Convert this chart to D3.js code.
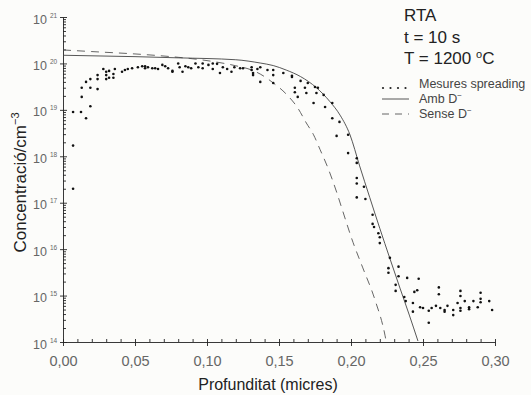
<!DOCTYPE html>
<html>
<head>
<meta charset="utf-8">
<script src="https://cdn.jsdelivr.net/npm/d3@7"></script>
<style>
  body { margin: 0; background: #fcfcfa; }
  svg { display: block; }
</style>
</head>
<body>
<div id="chart"></div>
<script>
// depth (micres), concentration (cm^-3)
const spreading = [
  [0.007, 9.0e18], [0.007, 1.7e18], [0.007, 2.0e17],
  [0.0125, 9.0e18], [0.013, 1.9e19], [0.013, 3.0e19],
  [0.016, 6.6e18], [0.016, 4.0e19],
  [0.019, 1.2e19], [0.019, 3.0e19], [0.019, 4.6e19],
  [0.024, 2.8e19], [0.024, 4.6e19], [0.024, 5.6e19],
  [0.028, 7.6e19],
  [0.030, 4.6e19], [0.030, 5.6e19], [0.030, 6.6e19],
  [0.032, 4.9e19], [0.032, 6.9e19],
  [0.035, 4.9e19], [0.035, 5.9e19],
  [0.036, 7.6e19], [0.041, 6.6e19], [0.043, 7.2e19], [0.045, 7.6e19],
  [0.048, 7.9e19], [0.052, 8.3e19], [0.055, 8.7e19], [0.057, 7.9e19], [0.057, 8.7e19],
  [0.059, 8.3e19], [0.062, 7.9e19], [0.064, 7.9e19], [0.066, 7.6e19], [0.069, 9.3e19],
  [0.071, 8.7e19], [0.073, 7.9e19], [0.076, 6.6e19], [0.076, 6.9e19], [0.080, 1.0e20],
  [0.081, 8.3e19], [0.083, 6.6e19], [0.085, 8.7e19], [0.087, 8.3e19], [0.089, 7.9e19],
  [0.092, 1.0e20], [0.094, 8.3e19], [0.097, 7.9e19], [0.097, 1.0e20], [0.101, 9.3e19],
  [0.104, 7.6e19], [0.104, 1.0e20], [0.107, 9.8e19], [0.109, 6.2e19], [0.111, 8.3e19],
  [0.114, 7.6e19], [0.117, 6.6e19], [0.119, 8.3e19], [0.123, 7.9e19], [0.125, 7.9e19],
  [0.131, 7.2e19], [0.131, 8.3e19], [0.132, 5.6e19], [0.132, 6.2e19], [0.135, 7.6e19],
  [0.137, 8.3e19], [0.137, 4.0e19], [0.142, 7.2e19], [0.146, 7.2e19], [0.146, 5.6e19],
  [0.146, 3.8e19], [0.153, 6.2e19], [0.159, 5.4e19], [0.159, 5.1e19], [0.161, 3.0e19],
  [0.161, 2.4e19], [0.163, 1.9e19], [0.165, 4.2e19], [0.168, 3.0e19], [0.169, 2.3e19],
  [0.170, 3.8e19], [0.174, 1.4e19], [0.175, 3.1e19], [0.176, 2.3e19], [0.177, 3.0e19],
  [0.181, 2.1e19], [0.182, 1.15e19], [0.187, 1.4e19], [0.187, 6.6e18], [0.190, 2.75e18],
  [0.192, 5.5e18], [0.198, 2.9e18], [0.198, 1.17e18],
  [0.204, 9.1e17], [0.204, 7.2e17], [0.204, 3.4e17], [0.204, 2.6e17], [0.204, 1.3e17],
  [0.209, 2.2e17], [0.210, 1.2e17], [0.215, 5.5e16], [0.215, 3.5e16], [0.216, 3.0e16],
  [0.219, 2.2e16], [0.220, 1.8e16], [0.220, 1.35e16], [0.227, 6.5e15], [0.226, 3.9e15],
  [0.226, 3.1e15], [0.231, 1.7e15], [0.231, 1.26e15], [0.233, 4.2e15], [0.233, 2.6e15],
  [0.237, 9.3e14], [0.238, 7.6e14], [0.239, 2.4e15], [0.243, 6.9e14], [0.243, 4.5e14],
  [0.244, 1.2e15], [0.246, 1.3e15], [0.247, 2.3e15], [0.248, 5.6e14], [0.250, 5.4e14],
  [0.254, 4.7e14], [0.254, 2.6e14], [0.256, 5.4e14], [0.259, 6.0e14], [0.261, 1.5e15],
  [0.261, 1.07e15], [0.262, 5.4e14], [0.265, 4.9e14], [0.265, 4.5e14], [0.267, 6.0e14],
  [0.271, 4.9e14], [0.271, 3.8e14], [0.274, 6.9e14], [0.276, 1.26e15], [0.276, 9.8e14],
  [0.276, 5.4e14], [0.276, 4.7e14], [0.279, 7.6e14], [0.282, 5.6e14], [0.282, 5.1e14],
  [0.285, 7.6e14], [0.288, 5.6e14], [0.290, 1.15e15], [0.290, 8.5e14], [0.290, 7.2e14],
  [0.296, 7.6e14], [0.298, 4.9e14]
];

// simulation with D- ("Amb D-")
const ambD = [
  [0, 1.5e20], [0.05, 1.4e20], [0.08, 1.32e20], [0.12, 1.2e20], [0.137, 1.02e20],
  [0.146, 9.0e19], [0.155, 7.2e19], [0.165, 5.2e19], [0.176, 3.0e19], [0.1854, 1.5e19],
  [0.1924, 7.7e18], [0.1993, 2.9e18], [0.206, 6.2e17], [0.213, 1.3e17], [0.22, 2.8e16],
  [0.227, 6.3e15], [0.234, 1.45e15], [0.2405, 3.8e14], [0.2465, 1.05e14]
];

// simulation without D- ("Sense D-")
const senseD = [
  [0, 1.95e20], [0.02, 1.8e20], [0.05, 1.6e20], [0.075, 1.4e20], [0.1, 1.15e20],
  [0.12, 8.9e19], [0.13, 7.4e19], [0.137, 5.9e19], [0.146, 3.8e19], [0.1556, 2.1e19],
  [0.163, 1.1e19], [0.169, 5.2e18], [0.174, 2.9e18], [0.1785, 1.4e18], [0.184, 5.6e17],
  [0.19, 1.7e17], [0.194, 7e16], [0.2014, 1.4e16], [0.208, 4.1e15], [0.2167, 8e14],
  [0.2236, 1.4e14], [0.2245, 1.0e14]
];

const xMajorTicks = [0, 0.05, 0.10, 0.15, 0.20, 0.25, 0.30];
const yExponents = [14, 15, 16, 17, 18, 19, 20, 21];

const width = 531;
const height = 395;
const marginTop = 17;
const marginRight = 36;
const marginBottom = 53;
const marginLeft = 63;
const font = "'Liberation Sans', Arial, sans-serif";

const x = d3.scaleLinear()
  .domain([0, 0.30])
  .range([marginLeft, width - marginRight]);

const y = d3.scaleLog()
  .domain([1e14, 1e21])
  .range([height - marginBottom, marginTop]);

const svg = d3.select("#chart").append("svg")
  .attr("width", width)
  .attr("height", height)
  .attr("viewBox", [0, 0, width, height])
  .style("font-family", font);

// bottom axis: minor ticks upward, major ticks downward
const xMinor = d3.range(0, 0.3001, 0.01);
svg.append("g")
  .attr("transform", `translate(0,${height - marginBottom})`)
  .call(d3.axisBottom(x).tickValues(xMinor).tickSize(-3).tickSizeOuter(0).tickFormat(""))
  .call(g => g.selectAll("line, path").attr("stroke", "#222").attr("stroke-width", 0.9));

svg.append("g")
  .attr("transform", `translate(0,${height - marginBottom})`)
  .call(d3.axisBottom(x).tickValues(xMajorTicks).tickSize(4).tickPadding(10)
    .tickFormat(d => d.toFixed(2).replace(".", ",")))
  .call(g => g.select(".domain").remove())
  .call(g => g.selectAll(".tick line").attr("stroke", "#222").attr("stroke-width", 0.9))
  .call(g => g.selectAll(".tick text")
    .attr("font-family", font)
    .attr("font-size", 14.5)
    .attr("fill", "#666"));

// left axis: log minor ticks inward, majors crossing
const yMinor = [];
for (const e of yExponents.slice(0, -1))
  for (let m = 2; m <= 9; m++) yMinor.push(m * Math.pow(10, e));

svg.append("g")
  .attr("transform", `translate(${marginLeft},0)`)
  .call(d3.axisLeft(y).tickValues(yMinor).tickSize(-3).tickSizeOuter(0).tickFormat(""))
  .call(g => g.selectAll("line, path").attr("stroke", "#222").attr("stroke-width", 0.9));

const yAxisMajor = svg.append("g")
  .attr("transform", `translate(${marginLeft},0)`)
  .call(d3.axisLeft(y).tickValues(yExponents.map(e => Math.pow(10, e))).tickSize(3).tickFormat(""))
  .call(g => g.select(".domain").remove())
  .call(g => g.selectAll(".tick line").attr("x2", -3).attr("x1", 4)
    .attr("stroke", "#222").attr("stroke-width", 0.9));

yAxisMajor.selectAll(".tick").each(function(d) {
  const t = d3.select(this);
  t.append("text")
    .attr("x", -16)
    .attr("y", 6)
    .attr("text-anchor", "end")
    .attr("font-size", 12.5)
    .attr("fill", "#666")
    .text("10");
  t.append("text")
    .attr("x", -13)
    .attr("y", 0)
    .attr("text-anchor", "start")
    .attr("font-size", 6.5)
    .attr("fill", "#666")
    .text(Math.round(Math.log10(d)));
});

// axis titles
svg.append("text")
  .attr("x", 268)
  .attr("y", 390)
  .attr("text-anchor", "middle")
  .attr("font-size", 16)
  .attr("fill", "#222")
  .text("Profunditat (micres)");

const yTitle = svg.append("text")
  .attr("transform", `translate(26,${(marginTop + height - marginBottom) / 2 + 3}) rotate(-90)`)
  .attr("text-anchor", "middle")
  .attr("font-size", 17)
  .attr("fill", "#222");
yTitle.append("tspan").text("Concentració/cm");
yTitle.append("tspan").attr("font-size", 11).attr("dy", -7).text("−3");

// curves
const line = d3.line()
  .x(d => x(d[0]))
  .y(d => y(d[1]))
  .curve(d3.curveMonotoneX);

svg.append("path")
  .datum(senseD)
  .attr("fill", "none")
  .attr("stroke", "#555")
  .attr("stroke-width", 0.9)
  .attr("stroke-dasharray", "8,6")
  .attr("d", line);

svg.append("path")
  .datum(ambD)
  .attr("fill", "none")
  .attr("stroke", "#444")
  .attr("stroke-width", 0.9)
  .attr("d", line);

// measurements
svg.append("g")
  .attr("fill", "#111")
  .selectAll("circle")
  .data(spreading)
  .join("circle")
  .attr("cx", d => x(d[0]))
  .attr("cy", d => y(d[1]))
  .attr("r", 1.3);

// annotation
const note = svg.append("g")
  .attr("font-size", 17)
  .attr("fill", "#222");
note.append("text").attr("x", 404).attr("y", 21).text("RTA");
note.append("text").attr("x", 404).attr("y", 43).text("t = 10 s");
const tLine = note.append("text").attr("x", 404).attr("y", 64);
tLine.append("tspan").text("T = 1200 ");
tLine.append("tspan").attr("font-size", 11).attr("dy", -6).text("o");
tLine.append("tspan").attr("dy", 6).text("C");

// legend
const legend = svg.append("g")
  .attr("font-size", 12.5)
  .attr("fill", "#444");

legend.selectAll("circle")
  .data([383, 390.5, 398, 405.5])
  .join("circle")
  .attr("cx", d => d)
  .attr("cy", 88)
  .attr("r", 1.1)
  .attr("fill", "#222");
legend.append("text").attr("x", 419).attr("y", 88).text("Mesures spreading");

legend.append("line")
  .attr("x1", 382).attr("x2", 409).attr("y1", 99).attr("y2", 99)
  .attr("stroke", "#444").attr("stroke-width", 0.9);
const amb = legend.append("text").attr("x", 419).attr("y", 103);
amb.append("tspan").text("Amb D");
amb.append("tspan").attr("font-size", 8).attr("dy", -5).text("−");

legend.append("line")
  .attr("x1", 382).attr("x2", 409).attr("y1", 114).attr("y2", 114)
  .attr("stroke", "#555").attr("stroke-width", 0.9)
  .attr("stroke-dasharray", "7,6");
const sense = legend.append("text").attr("x", 419).attr("y", 118);
sense.append("tspan").text("Sense D");
sense.append("tspan").attr("font-size", 8).attr("dy", -5).text("−");
</script>
</body>
</html>
